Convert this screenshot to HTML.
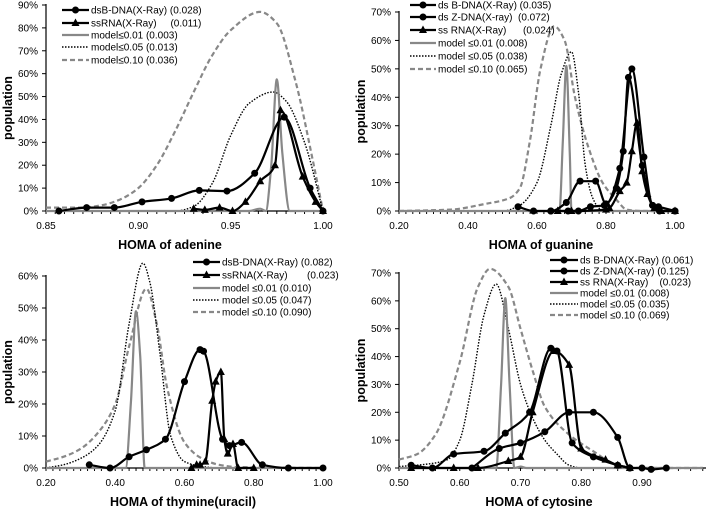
<!DOCTYPE html>
<html><head><meta charset="utf-8">
<style>
html,body{margin:0;padding:0;background:#fff;}
svg{display:block;font-family:"Liberation Sans",Arial,sans-serif;}
</style></head>
<body>
<svg id="chart" width="706" height="509" viewBox="0 0 706 509" xmlns="http://www.w3.org/2000/svg"></svg>
<script>
// ---------- Panel 1: adenine ----------
const p1Ticks = ["0.85","0.90","0.95","1.00"];
const p1TickVals = [0.85,0.90,0.95,1.00];
const p1Legend = ["dsB-DNA(X-Ray) (0.028)","ssRNA(X-Ray)     (0.011)","model≤0.01 (0.003)","model≤0.05 (0.013)","model≤0.10 (0.036)"];
const p1dsB = [[0.857,0],[0.872,1.5],[0.887,1.5],[0.902,4],[0.918,5.5],[0.933,9],[0.948,8.7],[0.963,16.5],[0.979,41],[0.993,10],[1.0,0]];
const p1ss = [[0.93,1],[0.936,0.5],[0.944,1.5],[0.951,0],[0.958,4],[0.966,13],[0.974,20],[0.977,44],[0.989,15],[0.996,4],[1.0,0]];
const p1m01 = [[0.85,0],[0.96,0],[0.966,1],[0.969,0],[0.972,20],[0.975,57.5],[0.978,25],[0.982,0],[1.0,0]];
const p1m05 = [[0.85,0],[0.92,0],[0.93,2],[0.94,12],[0.95,33],[0.96,47],[0.973,52],[0.98,48],[0.99,30],[1.0,0]];
const p1m10 = [[0.85,1.5],[0.87,1.5],[0.88,2.5],[0.89,5],[0.90,10],[0.91,20],[0.92,35],[0.93,52],[0.94,68],[0.95,79],[0.966,87],[0.975,82],[0.985,57],[0.995,20],[1.0,0]];
// ---------- Panel 2: guanine ----------
const p2Ticks = ["0.20","0.40","0.60","0.80","1.00"];
const p2TickVals = [0.2,0.4,0.6,0.8,1.0];
const p2Legend = ["ds B-DNA(X-Ray) (0.035)","ds Z-DNA(X-ray)  (0.072)","ss RNA(X-Ray)      (0.024)","model ≤0.01 (0.008)","model ≤0.05 (0.038)","model ≤0.10 (0.065)"];
const p2dsB = [[0.545,1.5],[0.59,0],[0.64,0],[0.685,3],[0.725,10.5],[0.77,10.5],[0.8,2.5],[0.84,15],[0.875,50],[0.91,19],[0.935,2],[0.952,1.5],[1.0,0]];
const p2dsZ = [[0.64,0],[0.69,0],[0.72,0],[0.755,1.5],[0.795,2],[0.83,8],[0.85,21],[0.865,47],[0.905,16],[0.935,2],[0.955,0],[1.0,0]];
const p2ss = [[0.66,0],[0.7,0],[0.8,0.5],[0.81,1],[0.84,7],[0.86,10],[0.875,21],[0.89,31],[0.905,14],[0.92,6],[0.94,1],[0.96,0],[1.0,0]];
const p2m01 = [[0.2,0],[0.665,0],[0.675,25],[0.685,51],[0.695,20],[0.70,0],[1.0,0]];
const p2m05 = [[0.2,0],[0.5,0],[0.55,2],[0.6,10],[0.64,30],[0.67,48],[0.70,56],[0.72,42],[0.74,16],[0.76,5],[0.78,1],[0.8,0],[1.0,0]];
const p2m10 = [[0.2,0],[0.35,0.5],[0.45,2.5],[0.52,4.5],[0.55,8],[0.58,25],[0.61,50],[0.65,65],[0.68,60],[0.71,40],[0.75,22],[0.79,10],[0.83,4],[0.86,0.5],[0.9,0],[1.0,0]];
// ---------- Panel 3: thymine ----------
const p3Ticks = ["0.20","0.40","0.60","0.80","1.00"];
const p3TickVals = [0.2,0.4,0.6,0.8,1.0];
const p3Legend = ["dsB-DNA(X-Ray) (0.082)","ssRNA(X-Ray)       (0.023)","model ≤0.01 (0.010)","model ≤0.05 (0.047)","model ≤0.10 (0.090)"];
const p3dsB = [[0.325,1],[0.385,0],[0.44,3.5],[0.49,5.7],[0.545,9],[0.6,27],[0.645,37],[0.655,36.5],[0.71,9],[0.73,7],[0.765,8],[0.825,1],[0.9,0],[1.0,0]];
const p3ss = [[0.62,0],[0.635,1],[0.645,1],[0.66,2],[0.68,21],[0.69,27],[0.705,30],[0.715,9],[0.725,4.5],[0.74,7.5],[0.755,0],[0.8,0]];
const p3m01 = [[0.2,0],[0.43,0],[0.445,20],[0.46,49],[0.472,35],[0.485,0],[1.0,0]];
const p3m05 = [[0.2,0],[0.25,1],[0.3,3],[0.35,7],[0.4,18],[0.44,45],[0.48,64],[0.5,58],[0.53,35],[0.56,10],[0.6,2],[0.65,0.5],[0.7,0],[1.0,0]];
const p3m10 = [[0.2,2],[0.25,3.5],[0.3,6],[0.35,11],[0.4,20],[0.44,38],[0.49,56],[0.52,45],[0.55,25],[0.6,8],[0.65,3],[0.7,1],[0.75,0.3],[1.0,0]];
// ---------- Panel 4: cytosine ----------
const p4Ticks = ["0.50","0.60","0.70","0.80","0.90"];
const p4TickVals = [0.5,0.6,0.7,0.8,0.9];
const p4Legend = ["ds B-DNA(X-Ray) (0.061)","ds Z-DNA(X-ray) (0.125)","ss RNA(X-Ray)    (0.023)","model ≤0.01 (0.008)","model ≤0.05 (0.035)","model ≤0.10 (0.069)"];
const p4dsB = [[0.52,1],[0.555,0],[0.59,5],[0.64,6],[0.675,12.5],[0.715,20],[0.75,43],[0.76,42],[0.785,9],[0.82,4],[0.86,1],[0.88,0]];
const p4dsZ = [[0.62,0],[0.665,7],[0.70,9],[0.74,13],[0.78,20],[0.82,20],[0.86,11],[0.88,0],[0.90,0],[0.915,-0.5],[0.94,0]];
const p4ss = [[0.52,0],[0.59,0],[0.63,0],[0.68,2.5],[0.70,4],[0.72,20],[0.755,42],[0.78,37],[0.80,7],[0.84,3],[0.86,1],[0.88,0]];
const p4m01 = [[0.5,0],[0.66,0],[0.668,30],[0.675,61],[0.682,30],[0.69,0],[0.70,0.5],[0.71,0],[1.0,0]];
const p4m05 = [[0.5,0.5],[0.55,1.5],[0.58,3],[0.6,10],[0.62,30],[0.64,55],[0.66,66],[0.68,50],[0.7,30],[0.72,18],[0.74,10],[0.76,5],[0.78,1],[0.8,0],[1.0,0]];
const p4m10 = [[0.5,3],[0.53,5],[0.56,12],[0.6,38],[0.63,65],[0.65,71.5],[0.68,65],[0.7,50],[0.72,35],[0.74,22],[0.78,12],[0.82,6],[0.86,1],[0.9,0],[1.0,0]];

const NS = "http://www.w3.org/2000/svg";
const svg = document.getElementById('chart');
function mk(tag, attrs, parent){const e=document.createElementNS(NS,tag);for(const k in attrs)e.setAttribute(k,attrs[k]);(parent||svg).appendChild(e);return e;}

// monotone cubic (Fritsch-Carlson) -> no overshoot
function smooth(pts){
  const n=pts.length;
  if(n<3){return "M"+pts.map(p=>p[0].toFixed(1)+","+p[1].toFixed(1)).join(" L");}
  const dx=[],s=[];
  for(let i=0;i<n-1;i++){dx[i]=pts[i+1][0]-pts[i][0];s[i]=dx[i]?(pts[i+1][1]-pts[i][1])/dx[i]:0;}
  const m=[s[0]];
  for(let i=1;i<n-1;i++){
    if(s[i-1]*s[i]<=0)m[i]=0;
    else{const w1=2*dx[i]+dx[i-1],w2=dx[i]+2*dx[i-1];m[i]=(w1+w2)/(w1/s[i-1]+w2/s[i]);}
  }
  m[n-1]=s[n-2];
  let d="M"+pts[0][0].toFixed(1)+","+pts[0][1].toFixed(1);
  for(let i=0;i<n-1;i++){
    const h=dx[i]/3;
    d+=" C"+(pts[i][0]+h).toFixed(1)+","+(pts[i][1]+m[i]*h).toFixed(1)+" "+(pts[i+1][0]-h).toFixed(1)+","+(pts[i+1][1]-m[i+1]*h).toFixed(1)+" "+pts[i+1][0].toFixed(1)+","+pts[i+1][1].toFixed(1);
  }
  return d;
}

const styles = {
  dsB:{stroke:"#000",w:2.2,dash:null,marker:"circle"},
  dsZ:{stroke:"#000",w:2.2,dash:null,marker:"circle"},
  ss:{stroke:"#000",w:2.2,dash:null,marker:"tri"},
  m01:{stroke:"#888",w:2.2,dash:null,marker:null},
  m05:{stroke:"#000",w:1.4,dash:"1.5,1.5",marker:null},
  m10:{stroke:"#888",w:2.2,dash:"5,3",marker:null}
};

function marker(g,type,x,y,name){
  let e;
  if(type==="circle") e=mk('circle',{cx:x,cy:y,r:3.5,fill:"#000"},g);
  else e=mk('path',{d:`M${x},${y-4.5} L${x+4},${y+3} L${x-4},${y+3} Z`,fill:"#000"},g);
  
  
}

function panel(cfg){
  const g=mk('g',{});
  
  
  const X=v=>cfg.x0+(v-cfg.xmin)/(cfg.xmax-cfg.xmin)*(cfg.x1-cfg.x0);
  const Y=v=>cfg.y0-v/cfg.ymax*(cfg.y0-cfg.y1);
  const ya=mk('line',{x1:cfg.x0,y1:cfg.y0,x2:cfg.x0,y2:cfg.y1-1,stroke:"#000","stroke-width":1.2},g);
  
  
  for(let v=0;v<=cfg.ymax;v+=10){
    mk('line',{x1:cfg.x0-4,y1:Y(v),x2:cfg.x0,y2:Y(v),stroke:"#000"},g);
    const t=mk('text',{x:cfg.x0-8,y:Y(v)+3.5,"font-size":10,"text-anchor":"end"},g);
    t.textContent=v+"%";
    
    
  }
  const xa=mk('line',{x1:cfg.x0,y1:cfg.y0,x2:cfg.xEnd,y2:cfg.y0,stroke:"#000","stroke-width":1.2},g);
  
  
  const step=(cfg.xmax-cfg.xmin)/cfg.minor;
  for(let v=cfg.xmin;X(v)<=cfg.xEnd+0.5;v+=step) mk('line',{x1:X(v),y1:cfg.y0,x2:X(v),y2:cfg.y0+3,stroke:"#000"},g);
  cfg.tickVals.forEach((v,i)=>{
    const t=mk('text',{x:X(v),y:cfg.y0+18,"font-size":10,"text-anchor":"middle"},g);
    t.textContent=cfg.ticks[i];
    
    
  });
  const xt=mk('text',{x:cfg.titleX,y:cfg.y0+38,"font-size":12.5,"font-weight":"bold","text-anchor":"middle"},g);
  xt.textContent=cfg.title;
  
  
  const yt=mk('text',{x:0,y:0,"font-size":12.5,"font-weight":"bold","text-anchor":"middle",transform:`translate(${cfg.x0-34},${(cfg.y0+cfg.y1)/2}) rotate(-90)`},g);
  yt.textContent="population";
  
  
  const order=["m10","m05","m01"].concat(cfg.series.filter(s=>!s[0].startsWith("m")).map(s=>s[0]));
  order.forEach(key=>{
    const s=cfg.series.find(q=>q[0]===key); if(!s)return;
    const st=styles[key];
    const pts=s[1].map(p=>[X(p[0]),Y(p[1])]);
    const path=mk('path',{d:smooth(pts),fill:"none",stroke:st.stroke,"stroke-width":st.w},g);
    if(st.dash) path.setAttribute('stroke-dasharray',st.dash);
    
    
    if(st.marker) pts.forEach(p=>marker(g,st.marker,p[0],p[1],'point-'+key));
  });
  cfg.legendKeys.forEach((key,i)=>{
    const st=styles[key];const y=cfg.ly[i];
    const l=mk('line',{x1:cfg.lx,y1:y,x2:cfg.lx+cfg.lw,y2:y,stroke:st.stroke,"stroke-width":st.w},g);
    if(st.dash) l.setAttribute('stroke-dasharray',st.dash);
    
    
    if(st.marker) marker(g,st.marker,cfg.lx+cfg.lw/2,y,'legend-marker');
    const t=mk('text',{x:cfg.lx+cfg.lw+2,y:y+3.5,"font-size":10,"xml:space":"preserve"},g);
    t.setAttribute('style','white-space:pre');
    t.textContent=cfg.legend[i];
    
    
  });
}

panel({name:"panel-adenine",x0:46,x1:323,xEnd:323,y0:211,y1:5,xmin:0.85,xmax:1.0,ymax:90,minor:30,
  ticks:p1Ticks,tickVals:p1TickVals,title:"HOMA of adenine",titleX:170,
  series:[["dsB",p1dsB],["ss",p1ss],["m01",p1m01],["m05",p1m05],["m10",p1m10]],
  legendKeys:["dsB","ss","m01","m05","m10"],legend:p1Legend,lx:62,lw:27,ly:[10,23,35,47,60]});
panel({name:"panel-guanine",x0:399,x1:675,xEnd:675,y0:211,y1:12,xmin:0.2,xmax:1.0,ymax:70,minor:40,
  ticks:p2Ticks,tickVals:p2TickVals,title:"HOMA of guanine",titleX:541,
  series:[["dsB",p2dsB],["dsZ",p2dsZ],["ss",p2ss],["m01",p2m01],["m05",p2m05],["m10",p2m10]],
  legendKeys:["dsB","dsZ","ss","m01","m05","m10"],legend:p2Legend,lx:410,lw:26,ly:[5,17,30,43,56,69]});
panel({name:"panel-thymine",x0:46,x1:323,xEnd:323,y0:468,y1:276,xmin:0.2,xmax:1.0,ymax:60,minor:40,
  ticks:p3Ticks,tickVals:p3TickVals,title:"HOMA of thymine(uracil)",titleX:183,
  series:[["dsB",p3dsB],["ss",p3ss],["m01",p3m01],["m05",p3m05],["m10",p3m10]],
  legendKeys:["dsB","ss","m01","m05","m10"],legend:p3Legend,lx:193,lw:27,ly:[262,275,288,300,312]});
panel({name:"panel-cytosine",x0:399,x1:642,xEnd:706,y0:468,y1:273,xmin:0.5,xmax:0.9,ymax:70,minor:20,
  ticks:p4Ticks,tickVals:p4TickVals,title:"HOMA of cytosine",titleX:539,
  series:[["dsB",p4dsB],["dsZ",p4dsZ],["ss",p4ss],["m01",p4m01],["m05",p4m05],["m10",p4m10]],
  legendKeys:["dsB","dsZ","ss","m01","m05","m10"],legend:p4Legend,lx:550,lw:28,ly:[260,271,282,293,304,315]});
</script>
</body></html>
